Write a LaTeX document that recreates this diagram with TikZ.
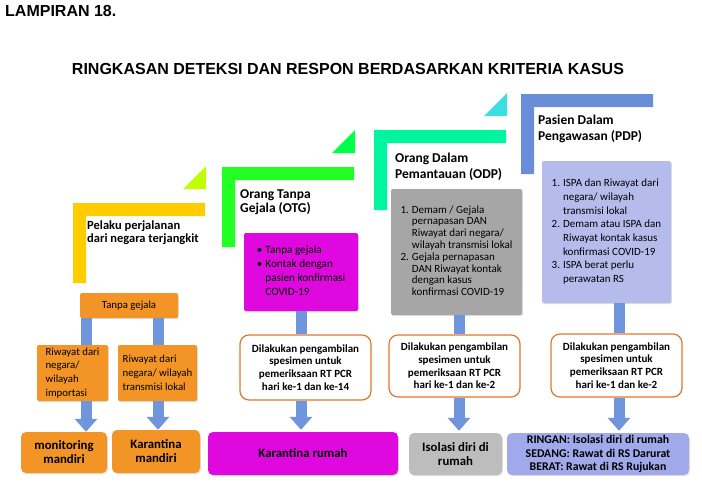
\documentclass[tikz,border=0pt]{standalone}
\usepackage{fontspec}
\setmainfont{Carlito}
\newfontfamily\headfont{Liberation Sans}
\usepackage{tikz}
\usetikzlibrary{positioning, calc, arrows.meta, shadows}
\definecolor{stepYellow}  {HTML}{FFCC00}
\definecolor{stepLime}    {HTML}{BFFF00}
\definecolor{stepGreen}   {HTML}{22FF22}
\definecolor{stepGreenTri}{HTML}{00FF48}
\definecolor{stepMint}    {HTML}{00F5A0}
\definecolor{stepCyan}    {HTML}{3CDFE0}
\definecolor{stepBlue}    {HTML}{6A8DD9}
\definecolor{boxOrange}   {HTML}{F39526}
\definecolor{boxMagenta}  {HTML}{DF08DF}
\definecolor{boxGrey}     {HTML}{A6A6A6}
\definecolor{boxGreyLt}   {HTML}{BDBDBD}
\definecolor{boxLav}      {HTML}{B5BCEC}
\definecolor{boxLavDk}    {HTML}{A0AAEA}
\definecolor{linkBlue}    {HTML}{6F95DC}
\definecolor{testEdge}    {HTML}{E0782C}
\newcommand{\critlist}[1]{\begin{tabular}{@{}l@{\hspace{3pt}}l@{}}#1\end{tabular}}
\tikzset{
  >={Triangle[length=13pt, width=22pt]},
  box/.style={
    rectangle, rounded corners=2pt, inner sep=0pt, align=center,
    text=black,
    drop shadow={opacity=0.25, shadow xshift=0.8pt, shadow yshift=-1.2pt}
  },
  obox/.style={
    box, fill=boxOrange, font=\fontsize{10.8}{13.9}\selectfont
  },
  oend/.style={
    box, fill=boxOrange, rounded corners=5pt,
    font=\bfseries\fontsize{12.8}{14}\selectfont
  },
  critbox/.style={
    box, font=\fontsize{11}{11.8}\selectfont
  },
  endbox/.style={
    box, rounded corners=5pt, font=\bfseries\fontsize{12.8}{13.7}\selectfont
  },
  testbox/.style={
    rectangle, draw=testEdge, line width=1.2pt, fill=white,
    rounded corners=9pt, inner sep=0pt, align=center, text=black,
    minimum width=131pt, font=\bfseries\fontsize{11}{12.7}\selectfont
  },
  steptext/.style={
    anchor=north west, inner sep=0pt, align=left,
    font=\bfseries\fontsize{13.5}{15.5}\selectfont
  },
  titletext/.style={
    inner sep=0pt, font=\headfont\bfseries\fontsize{16}{19}\selectfont
  },
  link/.style={draw=linkBlue, line width=11pt},
  flow/.style={link, ->},
}

\begin{document}
\begin{tikzpicture}[x=1pt, y=-1pt]
\useasboundingbox (0,0) rectangle (702,483);

% titles
\node[titletext, anchor=base west] (lamp) at (5,16.5) {LAMPIRAN 18.};
\node[titletext, anchor=base] (title) at (348,74)
  {RINGKASAN DETEKSI DAN RESPON BERDASARKAN KRITERIA KASUS};

% step corners and their small triangles
\foreach \sx/\sy/\col in {73/203/stepYellow, 222/167/stepGreen,
                          374/130/stepMint, 521/94/stepBlue} {
  \fill[\col] (\sx,\sy) -- ++(132,0) -- ++(0,13) -- ++(-119,0)
    -- ++(0,67) -- ++(-13,0) -- cycle;
}
\foreach \sx/\sy/\col in {73/203/stepLime, 222/167/stepGreenTri,
                          374/130/stepCyan} {
  \fill[\col] (\sx+110,\sy-14) -- (\sx+133,\sy-14) -- (\sx+133,\sy-37) -- cycle;
}

% step headings
\node[steptext, font=\bfseries\fontsize{12.5}{13}\selectfont] (pelaku) at (87,221)
  {Pelaku perjalanan\\dari negara terjangkit};
\node[steptext, font=\bfseries\fontsize{13.5}{14.5}\selectfont] (otg) at (240,189)
  {Orang Tanpa\\Gejala (OTG)};
\node[steptext] (odp) at (395,153) {Orang Dalam\\Pemantauan (ODP)};
\node[steptext] (pdp) at (538,115) {Pasien Dalam\\Pengawasan (PDP)};

% travellers
\node[obox, minimum width=98pt, minimum height=25pt] (tanpa) at (129,305.5) {Tanpa gejala};
\node[obox, minimum width=71pt, minimum height=56pt, align=left] (riwImp) at (72.5,373)
  {Riwayat dari\\negara/\\wilayah\\importasi};
\node[obox, minimum width=79pt, minimum height=56pt, align=left] (riwLok) at (157.5,373)
  {Riwayat dari\\negara/ wilayah\\transmisi lokal};
\node[oend, minimum width=86pt, minimum height=41pt] (monit) at (64,452.5)
  {monitoring\\mandiri};
\node[oend, minimum width=88pt, minimum height=43pt] (karMan) at (156,451.5)
  {Karantina\\mandiri};

% criteria boxes
\node[critbox, fill=boxMagenta, minimum width=114pt, minimum height=78pt,
      font=\fontsize{11.2}{13.9}\selectfont] (otgBox) at (301,272)
  {\critlist{\textbullet & Tanpa gejala\\ \textbullet & Kontak dengan\\
   & pasien konfirmasi\\ & COVID-19}};
\node[critbox, fill=boxGrey, minimum width=131pt, minimum height=126pt] (odpBox) at (456.5,252)
  {\critlist{1. & Demam / Gejala\\ & pernapasan DAN\\ & Riwayat dari negara/\\
   & wilayah transmisi lokal\\ 2. & Gejala pernapasan\\ & DAN Riwayat kontak\\
   & dengan kasus\\ & konfirmasi COVID-19}};
\node[critbox, fill=boxLav, minimum width=129pt, minimum height=142pt,
      font=\fontsize{11}{13.7}\selectfont] (pdpBox) at (606.5,232)
  {\critlist{1. & ISPA dan Riwayat dari\\ & negara/ wilayah\\ & transmisi lokal\\
   2. & Demam atau ISPA dan\\ & Riwayat kontak kasus\\ & konfirmasi COVID-19\\
   3. & ISPA berat perlu\\ & perawatan RS}};

% specimen boxes
\node[testbox, minimum height=65pt] (otgTest) at (305.5,367.5)
  {Dilakukan pengambilan\\spesimen untuk\\pemeriksaan RT PCR\\hari ke-1 dan ke-14};
\node[testbox, minimum height=62pt] (odpTest) at (454.5,366)
  {Dilakukan pengambilan\\spesimen untuk\\pemeriksaan RT PCR\\hari ke-1 dan ke-2};
\node[testbox, minimum height=63pt] (pdpTest) at (616.5,365.5)
  {Dilakukan pengambilan\\spesimen untuk\\pemeriksaan RT PCR\\hari ke-1 dan ke-2};

% outcomes
\node[endbox, fill=boxMagenta, minimum width=190pt, minimum height=43pt] (karRumah) at (303,453.5)
  {Karantina rumah};
\node[endbox, fill=boxGreyLt, minimum width=93pt, minimum height=42pt] (isolasi) at (455.5,454)
  {Isolasi diri di\\rumah};
\node[endbox, fill=boxLavDk, minimum width=182pt, minimum height=42pt,
      font=\bfseries\fontsize{11.8}{13.5}\selectfont] (pdpOut) at (598,454)
  {RINGAN: Isolasi diri di rumah\\SEDANG: Rawat di RS Darurat\\BERAT: Rawat di RS Rujukan};

% blue links
\coordinate (xa) at (86,0);
\coordinate (xb) at (158,0);
\coordinate (xc) at (301,0);
\coordinate (xd) at (459,0);
\coordinate (xe) at (619,0);
\draw[link] (tanpa.south -| xa) -- (riwImp.north -| xa);
\draw[link] (tanpa.south -| xb) -- (riwLok.north -| xb);
\draw[flow] (riwImp.south -| xa) -- (monit.north -| xa);
\draw[flow] (riwLok.south -| xb) -- (karMan.north -| xb);
\foreach \boxa/\boxb/\boxc/\xx in {otgBox/otgTest/karRumah/xc,
                                   odpBox/odpTest/isolasi/xd,
                                   pdpBox/pdpTest/pdpOut/xe} {
  \draw[link] (\boxa.south -| \xx) -- (\boxb.north -| \xx);
  \draw[flow] (\boxb.south -| \xx) -- ([yshift=2pt]\boxc.north -| \xx);
}

\end{tikzpicture}
\end{document}
